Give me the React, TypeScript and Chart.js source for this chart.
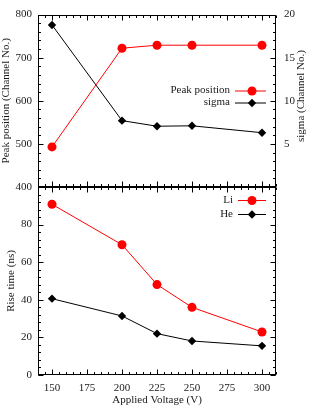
import React, { useEffect, useRef } from 'react';
import { Chart, registerables } from 'chart.js';

Chart.register(...registerables);

// ---- data ----
const voltages = [150, 200, 225, 250, 300];
const peakPosition = [493, 722, 729, 729, 729];
const sigma = [18.8, 7.7, 7.05, 7.1, 6.3];
const riseLi = [90.8, 69.3, 48.1, 36.0, 22.9];
const riseHe = [40.6, 31.4, 22.0, 18.1, 15.5];

const xTickLabels = [150, 175, 200, 225, 250, 275, 300];
const peakTicks = [400, 500, 600, 700, 800];
const sigmaTicks = [5, 10, 15, 20];
const riseTicks = [0, 20, 40, 60, 80];

// ---- style / layout ----
const FONT_FAMILY = '"Liberation Serif", "Times New Roman", serif';
const FONT_SIZE = 11;
const TEXT = '#1a1a1a';
const RED = '#ff0000';
const BLACK = '#000000';
const W = 314;
const H = 407;
const LEFT = 38;
const RIGHT = 276;
const TOP = 5;
const MID = 187;
const BOTTOM = 375;
const MAJOR = 5;
const MINOR = 2.5;

function steps(a: number, b: number, s: number): number[] {
  const out: number[] = [];
  for (let v = a; v <= b + 1e-9; v += s) out.push(Math.round(v * 1000) / 1000);
  return out;
}

const font = { family: FONT_FAMILY, size: FONT_SIZE };

type TickSpec = {
  scaleId: string;
  side: 'left' | 'right' | 'top' | 'bottom';
  majors: number[];
  minors: number[];
};

type LegendItem = { label: string; datasetIndex: number; y: number };

const framePlugin = {
  id: 'frameTicks',
  afterDatasetsDraw(chart: any, _args: any, opts: any) {
    const { ctx, chartArea: a } = chart;
    ctx.save();
    ctx.strokeStyle = BLACK;
    ctx.lineWidth = 1;
    const L = Math.round(a.left) + 0.5;
    const R = Math.round(a.right) - 0.5;
    const T = Math.round(a.top) + 0.5;
    const B = Math.round(a.bottom) - 0.5;
    ctx.strokeRect(L, T, R - L, B - T);
    const specs: TickSpec[] = opts.ticks || [];
    ctx.beginPath();
    for (const sp of specs) {
      const scale = chart.scales[sp.scaleId];
      const draw = (v: number, len: number) => {
        const p = Math.round(scale.getPixelForValue(v)) + 0.5;
        if (sp.side === 'left') { ctx.moveTo(L, p); ctx.lineTo(L + len, p); }
        if (sp.side === 'right') { ctx.moveTo(R, p); ctx.lineTo(R - len, p); }
        if (sp.side === 'top') { ctx.moveTo(p, T); ctx.lineTo(p, T + len); }
        if (sp.side === 'bottom') { ctx.moveTo(p, B); ctx.lineTo(p, B - len); }
      };
      sp.minors.forEach((v) => draw(v, MINOR));
      sp.majors.forEach((v) => draw(v, MAJOR));
    }
    ctx.stroke();
    ctx.restore();
  },
  afterDraw(chart: any, _args: any, opts: any) {
    const { ctx } = chart;
    ctx.save();
    ctx.font = `${FONT_SIZE}px ${FONT_FAMILY}`;
    ctx.fillStyle = TEXT;
    // right-axis title (reads bottom to top)
    if (opts.rightTitle) {
      ctx.save();
      ctx.translate(opts.rightTitle.x, opts.rightTitle.y);
      ctx.rotate(-Math.PI / 2);
      ctx.textAlign = 'center';
      ctx.textBaseline = 'middle';
      ctx.fillText(opts.rightTitle.text, 0, 0);
      ctx.restore();
    }
    // legend: text, then line sample with marker
    const items: LegendItem[] = opts.legend || [];
    const lg = opts.legendPos;
    for (const it of items) {
      const ds = chart.data.datasets[it.datasetIndex];
      ctx.textAlign = 'right';
      ctx.textBaseline = 'middle';
      ctx.fillStyle = TEXT;
      ctx.fillText(it.label, lg.textRight, it.y);
      ctx.strokeStyle = ds.borderColor;
      ctx.lineWidth = ds.borderWidth;
      ctx.beginPath();
      ctx.moveTo(lg.lineStart, it.y + 0.5);
      ctx.lineTo(lg.lineEnd, it.y + 0.5);
      ctx.stroke();
      ctx.fillStyle = ds.pointBackgroundColor;
      ctx.beginPath();
      const r = ds.pointRadius;
      const cx = lg.marker;
      const cy = it.y + 0.5;
      if (ds.pointStyle === 'rectRot') {
        ctx.moveTo(cx, cy - r);
        ctx.lineTo(cx + r, cy);
        ctx.lineTo(cx, cy + r);
        ctx.lineTo(cx - r, cy);
        ctx.closePath();
      } else {
        ctx.arc(cx, cy, r, 0, Math.PI * 2);
      }
      ctx.fill();
    }
    ctx.restore();
  },
};

function series(xs: number[], ys: number[]) {
  return xs.map((x, i) => ({ x, y: ys[i] }));
}

function lineDs(label: string, data: any[], color: string, style: string, radius: number, yAxisID: string) {
  return {
    label,
    data,
    yAxisID,
    borderColor: color,
    borderWidth: 1,
    backgroundColor: color,
    pointBackgroundColor: color,
    pointBorderColor: color,
    pointBorderWidth: 0,
    pointStyle: style,
    pointRadius: radius,
    pointHoverRadius: radius,
    tension: 0,
    fill: false,
  };
}

const xMinors = steps(140, 310, 5);

function yScale(min: number, max: number, ticks: number[], position: string, width: number, padding: number, title?: any) {
  return {
    type: 'linear',
    position,
    min,
    max,
    grid: { display: false, drawTicks: false },
    border: { display: false },
    ticks: { font, color: TEXT, padding, autoSkip: false },
    afterBuildTicks: (s: any) => { s.ticks = ticks.map((v) => ({ value: v })); },
    afterFit: (s: any) => { s.width = width; },
    title: title || { display: false },
  };
}

export default function App() {
  const topRef = useRef<HTMLCanvasElement>(null);
  const botRef = useRef<HTMLCanvasElement>(null);

  useEffect(() => {
    const top = new Chart(topRef.current as HTMLCanvasElement, {
      type: 'line',
      data: {
        datasets: [
          lineDs('Peak position', series(voltages, peakPosition), RED, 'circle', 4.5, 'y') as any,
          lineDs('sigma', series(voltages, sigma), BLACK, 'rectRot', 4.2, 'y1') as any,
        ],
      },
      options: {
        animation: false,
        responsive: false,
        devicePixelRatio: 1,
        events: [],
        layout: { padding: { top: TOP, bottom: H - MID, left: 0, right: 0 } },
        plugins: {
          legend: { display: false },
          tooltip: { enabled: false },
          frameTicks: {
            ticks: [
              { scaleId: 'y', side: 'left', majors: peakTicks, minors: steps(400, 800, 20) },
              { scaleId: 'y1', side: 'right', majors: steps(0, 20, 5), minors: steps(0, 20, 1) },
              { scaleId: 'x', side: 'top', majors: xTickLabels, minors: xMinors },
              { scaleId: 'x', side: 'bottom', majors: xTickLabels, minors: xMinors },
            ],
            rightTitle: { text: 'sigma (Channel No.)', x: 301, y: 96 },
            legend: [
              { label: 'Peak position', datasetIndex: 0, y: 90.5 },
              { label: 'sigma', datasetIndex: 1, y: 102.5 },
            ],
            legendPos: { textRight: 230, lineStart: 235, lineEnd: 266, marker: 252 },
          },
        } as any,
        scales: {
          x: { type: 'linear', min: 140, max: 310, display: false },
          y: yScale(400, 800, peakTicks, 'left', LEFT, 6, {
            display: true, text: 'Peak position (Channel No.)', font, color: TEXT, padding: { top: 0, bottom: 0 },
          }),
          y1: yScale(0, 20, sigmaTicks, 'right', W - RIGHT, 8),
        } as any,
      },
      plugins: [framePlugin],
    });

    const bot = new Chart(botRef.current as HTMLCanvasElement, {
      type: 'line',
      data: {
        datasets: [
          lineDs('Li', series(voltages, riseLi), RED, 'circle', 4.5, 'y') as any,
          lineDs('He', series(voltages, riseHe), BLACK, 'rectRot', 4.2, 'y') as any,
        ],
      },
      options: {
        animation: false,
        responsive: false,
        devicePixelRatio: 1,
        events: [],
        layout: { padding: { top: MID, bottom: 0, left: 0, right: W - RIGHT } },
        plugins: {
          legend: { display: false },
          tooltip: { enabled: false },
          frameTicks: {
            ticks: [
              { scaleId: 'y', side: 'left', majors: steps(0, 100, 20), minors: steps(0, 100, 4) },
              { scaleId: 'y', side: 'right', majors: steps(0, 100, 20), minors: steps(0, 100, 4) },
              { scaleId: 'x', side: 'top', majors: xTickLabels, minors: xMinors },
              { scaleId: 'x', side: 'bottom', majors: xTickLabels, minors: xMinors },
            ],
            legend: [
              { label: 'Li', datasetIndex: 0, y: 200 },
              { label: 'He', datasetIndex: 1, y: 214 },
            ],
            legendPos: { textRight: 233, lineStart: 238, lineEnd: 266, marker: 252 },
          },
        } as any,
        scales: {
          x: {
            type: 'linear',
            position: 'bottom',
            min: 140,
            max: 310,
            grid: { display: false, drawTicks: false },
            border: { display: false },
            ticks: { font, color: TEXT, padding: 7, autoSkip: false, maxRotation: 0 },
            afterBuildTicks: (s: any) => { s.ticks = xTickLabels.map((v) => ({ value: v })); },
            afterFit: (s: any) => { s.height = H - BOTTOM; },
            title: { display: true, text: 'Applied Voltage (V)', font, color: TEXT, padding: { top: 0, bottom: 0 } },
          },
          y: yScale(0, 100, riseTicks, 'left', LEFT, 6, {
            display: true, text: 'Rise time (ns)', font, color: TEXT, padding: { top: 5, bottom: 0 },
          }),
        } as any,
      },
      plugins: [framePlugin],
    });

    return () => {
      top.destroy();
      bot.destroy();
    };
  }, []);

  const canvasStyle: React.CSSProperties = { position: 'absolute', left: 0, top: 0, width: W, height: H };
  return (
    <div style={{ position: 'absolute', left: 0, top: 0, width: W, height: H, background: '#fff' }}>
      <canvas ref={topRef} width={W} height={H} style={canvasStyle} />
      <canvas ref={botRef} width={W} height={H} style={canvasStyle} />
    </div>
  );
}
